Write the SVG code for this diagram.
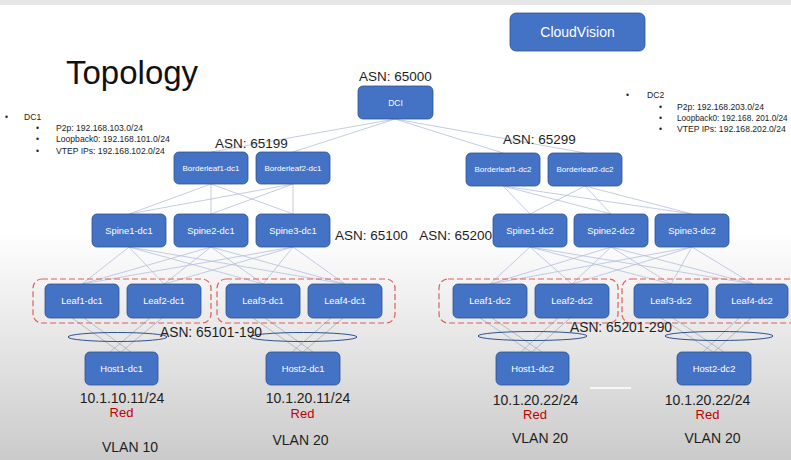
<svg xmlns="http://www.w3.org/2000/svg" width="791" height="460" viewBox="0 0 791 460">
<defs>
<linearGradient id="bg" x1="0" y1="230" x2="0" y2="460" gradientUnits="userSpaceOnUse">
<stop offset="0" stop-color="#ffffff"/>
<stop offset="1" stop-color="#cbcbcb"/>
</linearGradient>
<style>
.n{fill:#4472c4;stroke:#2f528f;stroke-width:0.8}
.t{fill:#ffffff;font-family:"Liberation Sans",Arial,sans-serif;text-anchor:middle}
.l{stroke:#b3bfdc;stroke-width:0.8;fill:none}
.h{stroke:#9ea6b8;stroke-width:0.7;fill:none}
.asn{fill:#1e1e1e;font-family:"Liberation Sans",Arial,sans-serif;font-size:13.5px}
.lst{fill:#222;font-family:"Liberation Sans",Arial,sans-serif;font-size:8.6px}
.ip{fill:#1e1e1e;font-family:"Liberation Sans",Arial,sans-serif;font-size:14px;text-anchor:middle}
.red{fill:#c00000;font-family:"Liberation Sans",Arial,sans-serif;font-size:13px;text-anchor:middle}
.grp{fill:none;stroke:#e35b5b;stroke-width:1.2;stroke-dasharray:6 3}
.el{fill:none;stroke:#2f528f;stroke-width:1}
</style>
</defs>
<rect x="0" y="0" width="791" height="460" fill="url(#bg)"/>
<rect x="0" y="0" width="791" height="5" fill="#e6e6e6"/>
<line x1="590" y1="388" x2="631" y2="388" stroke="#ffffff" stroke-width="1.5"/>

<text x="66" y="84" font-family="'Liberation Sans',Arial,sans-serif" font-size="33" fill="#111">Topology</text>

<g id="dc1-info" class="lst">
<text x="5" y="120">•</text><text x="24" y="120">DC1</text>
<text x="36" y="131">•</text><text x="56" y="131">P2p: 192.168.103.0/24</text>
<text x="36" y="142">•</text><text x="56" y="142">Loopback0: 192.168.101.0/24</text>
<text x="36" y="154">•</text><text x="56" y="154">VTEP IPs: 192.168.102.0/24</text>
</g>
<g id="dc2-info" class="lst">
<text x="626" y="98">•</text><text x="647" y="98">DC2</text>
<text x="659" y="110">•</text><text x="677" y="110">P2p: 192.168.203.0/24</text>
<text x="659" y="121">•</text><text x="677" y="121" font-size="8.2">Loopback0: 192.168. 201.0/24</text>
<text x="659" y="132">•</text><text x="677" y="132">VTEP IPs: 192.168.202.0/24</text>
</g>

<g id="connectors">
<g class="l">
<line x1="395" y1="119" x2="211" y2="152"/>
<line x1="395" y1="119" x2="293" y2="152"/>
<line x1="395" y1="119" x2="503" y2="153"/>
<line x1="395" y1="119" x2="585" y2="153"/>
<line x1="211" y1="184" x2="129" y2="214"/>
<line x1="211" y1="184" x2="211" y2="214"/>
<line x1="211" y1="184" x2="293" y2="214"/>
<line x1="293" y1="184" x2="129" y2="214"/>
<line x1="293" y1="184" x2="211" y2="214"/>
<line x1="293" y1="184" x2="293" y2="214"/>
<line x1="503" y1="186" x2="530" y2="214"/>
<line x1="503" y1="186" x2="611" y2="214"/>
<line x1="503" y1="186" x2="692" y2="214"/>
<line x1="585" y1="186" x2="530" y2="214"/>
<line x1="585" y1="186" x2="611" y2="214"/>
<line x1="585" y1="186" x2="692" y2="214"/>
<line x1="129" y1="247" x2="82" y2="284"/>
<line x1="129" y1="247" x2="164" y2="284"/>
<line x1="129" y1="247" x2="263" y2="284"/>
<line x1="129" y1="247" x2="345" y2="284"/>
<line x1="211" y1="247" x2="82" y2="284"/>
<line x1="211" y1="247" x2="164" y2="284"/>
<line x1="211" y1="247" x2="263" y2="284"/>
<line x1="211" y1="247" x2="345" y2="284"/>
<line x1="293" y1="247" x2="82" y2="284"/>
<line x1="293" y1="247" x2="164" y2="284"/>
<line x1="293" y1="247" x2="263" y2="284"/>
<line x1="293" y1="247" x2="345" y2="284"/>
<line x1="530" y1="247" x2="490" y2="284"/>
<line x1="530" y1="247" x2="572" y2="284"/>
<line x1="530" y1="247" x2="671" y2="284"/>
<line x1="530" y1="247" x2="753" y2="284"/>
<line x1="611" y1="247" x2="490" y2="284"/>
<line x1="611" y1="247" x2="572" y2="284"/>
<line x1="611" y1="247" x2="671" y2="284"/>
<line x1="611" y1="247" x2="753" y2="284"/>
<line x1="692" y1="247" x2="490" y2="284"/>
<line x1="692" y1="247" x2="572" y2="284"/>
<line x1="692" y1="247" x2="671" y2="284"/>
<line x1="692" y1="247" x2="753" y2="284"/>
</g>
<g class="h">
<line x1="72" y1="318" x2="120" y2="352"/>
<line x1="84" y1="318" x2="131" y2="352"/>
<line x1="150" y1="318" x2="110" y2="352"/>
<line x1="162" y1="318" x2="121" y2="352"/>
<line x1="253" y1="318" x2="302" y2="352"/>
<line x1="265" y1="318" x2="313" y2="352"/>
<line x1="331" y1="318" x2="292" y2="352"/>
<line x1="343" y1="318" x2="303" y2="352"/>
<line x1="480" y1="318" x2="531" y2="352"/>
<line x1="492" y1="318" x2="542" y2="352"/>
<line x1="558" y1="318" x2="521" y2="352"/>
<line x1="570" y1="318" x2="532" y2="352"/>
<line x1="661" y1="318" x2="713" y2="352"/>
<line x1="673" y1="318" x2="724" y2="352"/>
<line x1="739" y1="318" x2="703" y2="352"/>
<line x1="751" y1="318" x2="714" y2="352"/>
</g>
</g>

<g id="groups">
<rect class="grp" x="33" y="279" width="178" height="44" rx="9"/>
<rect class="grp" x="217" y="279" width="178" height="44" rx="9"/>
<rect class="grp" x="439" y="279" width="179" height="44" rx="9"/>
<rect class="grp" x="622" y="279" width="190" height="44" rx="9"/>
<ellipse class="el" cx="117.5" cy="337" rx="49.5" ry="4.5"/>
<ellipse class="el" cx="303.5" cy="337" rx="53.5" ry="4.5"/>
<ellipse class="el" cx="532.5" cy="336" rx="54.5" ry="4.5"/>
<ellipse class="el" cx="719" cy="336" rx="54" ry="4.5"/>
</g>

<g id="cloudvision"><rect class="n" x="510" y="13" width="135" height="38" rx="6"/><text class="t" x="577.5" y="37" font-size="14">CloudVision</text></g>
<g id="dci"><rect class="n" x="358" y="86" width="75" height="33" rx="5"/><text class="t" x="395.5" y="105.5" font-size="8.5">DCI</text></g>

<g id="borderleaf1-dc1"><rect class="n" x="174" y="152" width="74" height="32" rx="5"/><text class="t" x="211" y="170.8" font-size="8">Borderleaf1-dc1</text></g>
<g id="borderleaf2-dc1"><rect class="n" x="256" y="152" width="74" height="32" rx="5"/><text class="t" x="293" y="170.8" font-size="8">Borderleaf2-dc1</text></g>
<g id="borderleaf1-dc2"><rect class="n" x="466" y="153" width="74" height="33" rx="5"/><text class="t" x="503" y="172.3" font-size="8">Borderleaf1-dc2</text></g>
<g id="borderleaf2-dc2"><rect class="n" x="548" y="153" width="74" height="33" rx="5"/><text class="t" x="585" y="172.3" font-size="8">Borderleaf2-dc2</text></g>

<g id="spine1-dc1"><rect class="n" x="92" y="214" width="74" height="33" rx="5"/><text class="t" x="129" y="233.8" font-size="9.4">Spine1-dc1</text></g>
<g id="spine2-dc1"><rect class="n" x="174" y="214" width="74" height="33" rx="5"/><text class="t" x="211" y="233.8" font-size="9.4">Spine2-dc1</text></g>
<g id="spine3-dc1"><rect class="n" x="256" y="214" width="74" height="33" rx="5"/><text class="t" x="293" y="233.8" font-size="9.4">Spine3-dc1</text></g>
<g id="spine1-dc2"><rect class="n" x="493" y="214" width="74" height="33" rx="5"/><text class="t" x="530" y="233.8" font-size="9.4">Spine1-dc2</text></g>
<g id="spine2-dc2"><rect class="n" x="574" y="214" width="74" height="33" rx="5"/><text class="t" x="611" y="233.8" font-size="9.4">Spine2-dc2</text></g>
<g id="spine3-dc2"><rect class="n" x="655" y="214" width="74" height="33" rx="5"/><text class="t" x="692" y="233.8" font-size="9.4">Spine3-dc2</text></g>

<g id="leaf1-dc1"><rect class="n" x="45" y="284" width="74" height="34" rx="5"/><text class="t" x="82" y="304.3" font-size="9.4">Leaf1-dc1</text></g>
<g id="leaf2-dc1"><rect class="n" x="127" y="284" width="74" height="34" rx="5"/><text class="t" x="164" y="304.3" font-size="9.4">Leaf2-dc1</text></g>
<g id="leaf3-dc1"><rect class="n" x="226" y="284" width="74" height="34" rx="5"/><text class="t" x="263" y="304.3" font-size="9.4">Leaf3-dc1</text></g>
<g id="leaf4-dc1"><rect class="n" x="308" y="284" width="74" height="34" rx="5"/><text class="t" x="345" y="304.3" font-size="9.4">Leaf4-dc1</text></g>
<g id="leaf1-dc2"><rect class="n" x="453" y="284" width="74" height="34" rx="5"/><text class="t" x="490" y="304.3" font-size="9.4">Leaf1-dc2</text></g>
<g id="leaf2-dc2"><rect class="n" x="535" y="284" width="74" height="34" rx="5"/><text class="t" x="572" y="304.3" font-size="9.4">Leaf2-dc2</text></g>
<g id="leaf3-dc2"><rect class="n" x="634" y="284" width="74" height="34" rx="5"/><text class="t" x="671" y="304.3" font-size="9.4">Leaf3-dc2</text></g>
<g id="leaf4-dc2"><rect class="n" x="716" y="284" width="72" height="34" rx="5"/><text class="t" x="752" y="304.3" font-size="9.4">Leaf4-dc2</text></g>

<g id="host1-dc1"><rect class="n" x="85" y="352" width="73" height="33" rx="5"/><text class="t" x="121.5" y="371.8" font-size="9.4">Host1-dc1</text></g>
<g id="host2-dc1"><rect class="n" x="266" y="352" width="74" height="33" rx="5"/><text class="t" x="303" y="371.8" font-size="9.4">Host2-dc1</text></g>
<g id="host1-dc2"><rect class="n" x="496" y="352" width="73" height="33" rx="5"/><text class="t" x="532.5" y="371.8" font-size="9.4">Host1-dc2</text></g>
<g id="host2-dc2"><rect class="n" x="677" y="352" width="74" height="33" rx="5"/><text class="t" x="714" y="371.8" font-size="9.4">Host2-dc2</text></g>

<g id="asn-labels" class="asn">
<text x="359" y="81">ASN: 65000</text>
<text x="215" y="148">ASN: 65199</text>
<text x="503" y="144">ASN: 65299</text>
<text x="335" y="240">ASN: 65100</text>
<text x="492" y="240" text-anchor="end">ASN: 65200</text>
<text x="160" y="337" font-size="13.8">ASN: 65101-190</text>
<text x="570" y="332" font-size="13.8">ASN: 65201-290</text>
</g>

<g id="host-labels">
<text class="ip" x="122" y="403">10.1.10.11/24</text>
<text class="red" x="121.5" y="417">Red</text>
<text class="ip" x="130" y="452" font-size="13.5">VLAN 10</text>
<text class="ip" x="308" y="403">10.1.20.11/24</text>
<text class="red" x="302.5" y="418">Red</text>
<text class="ip" x="300.5" y="445" font-size="13.5">VLAN 20</text>
<text class="ip" x="535.5" y="405">10.1.20.22/24</text>
<text class="red" x="535" y="419">Red</text>
<text class="ip" x="540" y="443" font-size="13.5">VLAN 20</text>
<text class="ip" x="707.5" y="405">10.1.20.22/24</text>
<text class="red" x="707.5" y="419">Red</text>
<text class="ip" x="712.5" y="443" font-size="13.5">VLAN 20</text>
</g>
</svg>
